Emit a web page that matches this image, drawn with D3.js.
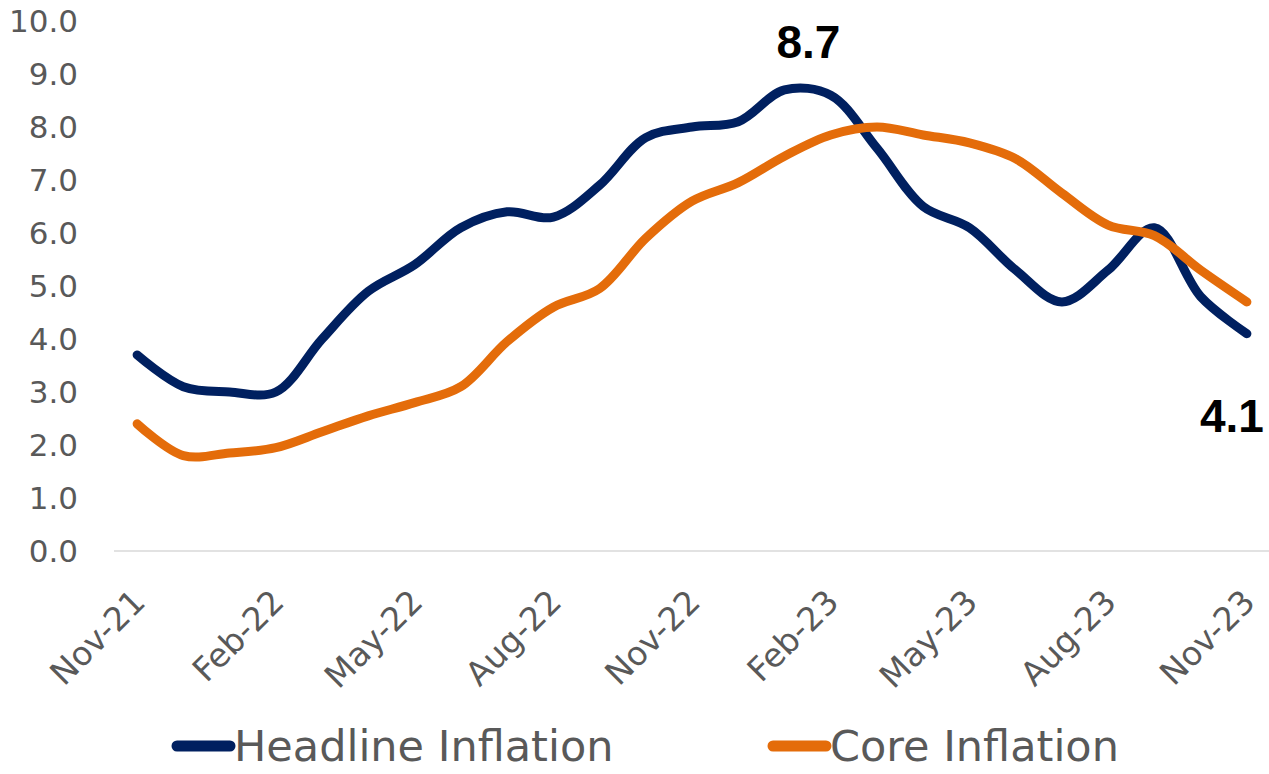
<!DOCTYPE html>
<html>
<head>
<meta charset="utf-8">
<script src="https://cdn.jsdelivr.net/npm/d3@7"></script>
<style>
    body { margin: 0; background: #fff; }
    svg { display: block; }
    .tick-label { font-family: "DejaVu Sans", sans-serif; font-size: 31px; fill: #595959; }
    .x-label { font-size: 33px; }
    .legend-label { font-family: "DejaVu Sans", sans-serif; font-size: 43px; fill: #595959; }
    .data-label { font-family: "Liberation Sans", Arial, sans-serif; font-size: 46px; font-weight: bold; fill: #000; }
</style>
</head>
<body>
<svg id="chart"></svg>
<script>
// monthly values, Nov-21 .. Nov-23
const months = ["Nov-21","Dec-21","Jan-22","Feb-22","Mar-22","Apr-22","May-22","Jun-22","Jul-22","Aug-22",
    "Sep-22","Oct-22","Nov-22","Dec-22","Jan-23","Feb-23","Mar-23","Apr-23","May-23","Jun-23",
    "Jul-23","Aug-23","Sep-23","Oct-23","Nov-23"];
const headline = [3.7, 3.1, 3.0, 3.0, 4.0, 4.9, 5.4, 6.1, 6.4, 6.3,
    6.9, 7.8, 8.0, 8.1, 8.7, 8.6, 7.6, 6.5, 6.1, 5.3,
    4.7, 5.3, 6.1, 4.8, 4.1];
const core = [2.4, 1.8, 1.85, 1.95, 2.25, 2.55, 2.8, 3.1, 3.95, 4.6,
    4.95, 5.9, 6.6, 6.95, 7.45, 7.85, 8.0, 7.85, 7.7, 7.4,
    6.75, 6.15, 5.95, 5.3, 4.7];
const xTickLabels = ["Nov-21","Feb-22","May-22","Aug-22","Nov-22","Feb-23","May-23","Aug-23","Nov-23"];
const yTicks = [0,1,2,3,4,5,6,7,8,9,10];
const seriesNames = ["Headline Inflation", "Core Inflation"];
const seriesColors = ["#002060", "#e46c0a"];
// points that carry a value label: [series index, month]
const labelled = [[0, "Jan-23"], [0, "Nov-23"]];

const width = 1269, height = 774;

const svg = d3.select("#chart")
    .attr("width", width)
    .attr("height", height);

const x = d3.scaleBand()
    .domain(months)
    .range([114, 1270]);
const cx = d => x(d) + x.bandwidth() / 2;

const y = d3.scaleLinear()
    .domain([0, 10])
    .range([551, 21]);

// baseline
svg.append("line")
    .attr("x1", x.range()[0])
    .attr("x2", x.range()[1])
    .attr("y1", y(0))
    .attr("y2", y(0))
    .attr("stroke", "#d9d9d9")
    .attr("stroke-width", 1.5);

// y tick labels
svg.append("g")
    .selectAll("text")
    .data(yTicks)
    .join("text")
    .attr("class", "tick-label")
    .attr("x", 78)
    .attr("y", d => y(d))
    .attr("dy", "0.36em")
    .attr("text-anchor", "end")
    .text(d => d3.format(".1f")(d));

// x tick labels, rotated
svg.append("g")
    .selectAll("text")
    .data(xTickLabels)
    .join("text")
    .attr("class", "tick-label x-label")
    .attr("text-anchor", "end")
    .attr("transform", d => `translate(${cx(d) + 10},${604}) rotate(-45)`)
    .text(d => d);

const series = [headline, core].map((vals, i) => ({
    name: seriesNames[i],
    color: seriesColors[i],
    values: vals.map((v, j) => ({month: months[j], value: v}))
}));

const line = d3.line()
    .x(d => cx(d.month))
    .y(d => y(d.value))
    .curve(d3.curveCatmullRom.alpha(0.5));

// core drawn last, it sits on top where the lines cross
svg.append("g")
    .selectAll("path")
    .data(series)
    .join("path")
    .attr("d", d => line(d.values))
    .attr("fill", "none")
    .attr("stroke", d => d.color)
    .attr("stroke-width", 9)
    .attr("stroke-linecap", "round")
    .attr("stroke-linejoin", "round");

// value labels
const labelOffsets = {"Jan-23": [24, -32], "Nov-23": [-15, 98]};
svg.append("g")
    .selectAll("text")
    .data(labelled)
    .join("text")
    .attr("class", "data-label")
    .attr("text-anchor", "middle")
    .attr("x", d => cx(d[1]) + labelOffsets[d[1]][0])
    .attr("y", d => y(series[d[0]].values[months.indexOf(d[1])].value) + labelOffsets[d[1]][1])
    .text(d => d3.format(".1f")(series[d[0]].values[months.indexOf(d[1])].value));

// legend
const legendX = [172, 768];
const legend = svg.append("g")
    .selectAll("g")
    .data(series)
    .join("g")
    .attr("transform", (d, i) => `translate(${legendX[i]},746)`);

legend.append("line")
    .attr("x1", 5)
    .attr("x2", 58)
    .attr("stroke", d => d.color)
    .attr("stroke-width", 11)
    .attr("stroke-linecap", "round");

legend.append("text")
    .attr("class", "legend-label")
    .attr("x", 62)
    .attr("dy", "0.36em")
    .text(d => d.name);
</script>
</body>
</html>
